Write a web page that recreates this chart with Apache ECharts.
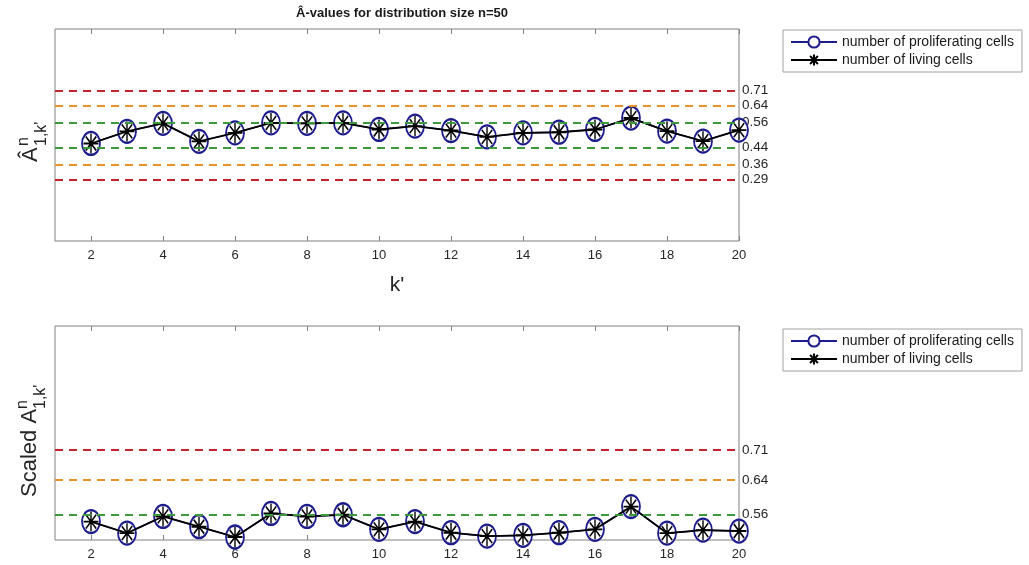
<!DOCTYPE html>
<html>
<head>
<meta charset="utf-8">
<script src="https://cdn.jsdelivr.net/npm/echarts@6/dist/echarts.min.js"></script>
<style>
  html, body { margin: 0; padding: 0; background: #fff; }
  #chart { width: 1029px; height: 565px; }
</style>
</head>
<body>
<div id="chart"></div>
<script>
// k' values on the x axis
const kValues = [2, 3, 4, 5, 6, 7, 8, 9, 10, 11, 12, 13, 14, 15, 16, 17, 18, 19, 20]
const xTicks = [2, 4, 6, 8, 10, 12, 14, 16, 18, 20]

// top panel: A-hat values
const proliferatingTop = [0.460, 0.517, 0.555, 0.470, 0.510, 0.557, 0.555, 0.557, 0.526, 0.542,
  0.521, 0.491, 0.510, 0.513, 0.526, 0.580, 0.518, 0.471, 0.523]
const livingTop = [0.460, 0.517, 0.555, 0.470, 0.510, 0.557, 0.555, 0.557, 0.526, 0.542,
  0.521, 0.491, 0.510, 0.513, 0.526, 0.580, 0.518, 0.471, 0.523]

// bottom panel: scaled values
const proliferatingScaled = [0.543, 0.516, 0.555, 0.531, 0.507, 0.562, 0.555, 0.559, 0.525, 0.543,
  0.517, 0.509, 0.511, 0.517, 0.525, 0.578, 0.516, 0.523, 0.521]
const livingScaled = [0.543, 0.516, 0.555, 0.531, 0.507, 0.562, 0.555, 0.559, 0.525, 0.543,
  0.517, 0.509, 0.511, 0.517, 0.525, 0.578, 0.516, 0.523, 0.521]

// threshold lines
const thresholdsTop = [0.71, 0.64, 0.56, 0.44, 0.36, 0.29]
const thresholdsScaled = [0.71, 0.64, 0.56]

const seriesNames = ['number of proliferating cells', 'number of living cells']

const RED = '#c4242c'
const ORANGE = '#e8922c'
const GREEN = '#3c9a3c'
const BLUE = '#1c1c8c'
const FONT = 'Liberation Sans, Arial, sans-serif'
const ASTERISK = 'path://M10,0 L10,20 M0,10 L20,10 M3,3 L17,17 M3,17 L17,3'

function lineColor(v) {
  const d = Math.abs(v - 0.5)
  if (d > 0.18) return RED
  if (d > 0.1) return ORANGE
  return GREEN
}

function pairs(values) {
  return kValues.map((k, i) => [k, values[i]])
}

function thresholdSeries(idx, values) {
  return {
    type: 'line',
    xAxisIndex: idx * 2,
    yAxisIndex: idx,
    data: [],
    silent: true,
    z: 1,
    markLine: {
      silent: true,
      symbol: ['none', 'none'],
      label: { show: false },
      animation: false,
      data: values.map(v => ({
        yAxis: v,
        lineStyle: { color: lineColor(v), type: [8, 6], width: 1.8 }
      }))
    }
  }
}

function dataSeries(idx, prolif, living) {
  return [{
    name: seriesNames[0],
    type: 'line',
    xAxisIndex: idx * 2,
    yAxisIndex: idx,
    data: pairs(prolif),
    symbol: 'emptyCircle',
    symbolSize: [18, 23],
    z: 3,
    lineStyle: { color: BLUE, width: 1.5 },
    itemStyle: { color: BLUE, borderColor: BLUE, borderWidth: 2.2 }
  }, {
    name: seriesNames[1],
    type: 'line',
    xAxisIndex: idx * 2,
    yAxisIndex: idx,
    data: pairs(living),
    symbol: ASTERISK,
    symbolSize: [15, 20],
    z: 4,
    lineStyle: { color: '#000', width: 1.8 },
    itemStyle: { color: '#000', borderColor: '#000', borderWidth: 1.6 }
  }]
}

function xAxes(idx, withName) {
  const bottom = {
    type: 'value',
    gridIndex: idx,
    min: 1,
    max: 20,
    position: 'bottom',
    axisLine: { show: false },
    splitLine: { show: false },
    axisTick: { inside: true, length: 5, customValues: xTicks, lineStyle: { color: '#808080' } },
    axisLabel: { customValues: xTicks, fontSize: 13, color: '#262626', fontFamily: FONT, margin: 8 }
  }
  if (withName) {
    bottom.name = "k'"
    bottom.nameLocation = 'middle'
    bottom.nameGap = 34
    bottom.nameTextStyle = { fontSize: 21, color: '#262626', fontFamily: FONT }
  }
  const top = {
    type: 'value',
    gridIndex: idx,
    min: 1,
    max: 20,
    position: 'top',
    axisLine: { show: false },
    splitLine: { show: false },
    axisTick: { inside: true, length: 5, customValues: xTicks, lineStyle: { color: '#808080' } },
    axisLabel: { show: false }
  }
  return [bottom, top]
}

function yAxis(idx, min, max, labels) {
  return {
    type: 'value',
    gridIndex: idx,
    min: min,
    max: max,
    position: 'right',
    axisLine: { show: false },
    axisTick: { show: false },
    splitLine: { show: false },
    axisLabel: {
      customValues: labels,
      formatter: v => v.toFixed(2),
      fontSize: 13.5,
      color: '#262626',
      fontFamily: FONT,
      margin: 3
    }
  }
}

function legend(top) {
  return {
    data: seriesNames,
    orient: 'vertical',
    left: 783,
    top: top,
    itemWidth: 46,
    itemHeight: 14,
    itemGap: 4,
    padding: [5, 8, 5, 7],
    borderColor: '#a0a0a0',
    borderWidth: 1,
    selectedMode: false,
    textStyle: { fontSize: 14, color: '#1a1a1a', fontFamily: FONT }
  }
}

function rotatedText(x, y, text, size) {
  return {
    type: 'text',
    x: x,
    y: y,
    rotation: Math.PI / 2,
    style: { text: text, font: size + 'px ' + FONT, fill: '#262626', textAlign: 'left', textVerticalAlign: 'middle' }
  }
}

const chart = echarts.init(document.getElementById('chart'))
chart.setOption({
  animation: false,
  backgroundColor: '#fff',
  title: {
    text: 'Â-values for distribution size n=50',
    left: 397,
    textAlign: 'center',
    top: 2,
    textStyle: { fontSize: 13, fontWeight: 'bold', color: '#1a1a1a', fontFamily: FONT }
  },
  legend: [legend(30), legend(329)],
  grid: [
    { left: 55, top: 29, width: 684, height: 212, show: true, borderColor: '#808080', borderWidth: 1 },
    { left: 55, top: 326, width: 684, height: 214, show: true, borderColor: '#808080', borderWidth: 1 }
  ],
  xAxis: xAxes(0, true).concat(xAxes(1, false)),
  yAxis: [yAxis(0, 0, 1, thresholdsTop), yAxis(1, 0.5, 1, thresholdsScaled)],
  graphic: [
    rotatedText(31, 162, 'Â', 22),
    rotatedText(24, 146, 'n', 16),
    rotatedText(42, 146, "1,k'", 16),
    rotatedText(30, 497, 'Scaled A', 22),
    rotatedText(23, 409, 'n', 16),
    rotatedText(41, 409, "1,k'", 16)
  ],
  series: [
    thresholdSeries(0, thresholdsTop),
    ...dataSeries(0, proliferatingTop, livingTop),
    thresholdSeries(1, thresholdsScaled),
    ...dataSeries(1, proliferatingScaled, livingScaled)
  ]
})
</script>
</body>
</html>
